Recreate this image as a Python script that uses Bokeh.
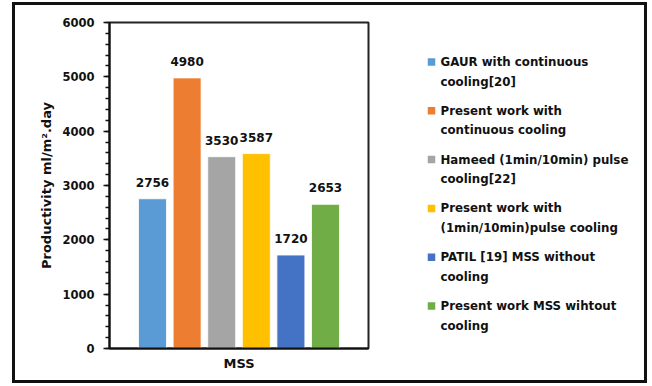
from bokeh.plotting import figure
from bokeh.models import (ColumnDataSource, FactorRange, Range1d,
                          SingleIntervalTicker, LabelSet)
from bokeh.core.properties import value
from bokeh.transform import dodge
from bokeh.layouts import row
from bokeh.embed import file_html
from bokeh.resources import INLINE

# Productivity of each still configuration (ml/m².day)
categories = ["MSS"]
series_names = [
    "GAUR with continuous\ncooling[20]",
    "Present work with\ncontinuous cooling",
    "Hameed (1min/10min) pulse\ncooling[22]",
    "Present work with\n(1min/10min)pulse cooling",
    "PATIL [19] MSS without\ncooling",
    "Present work MSS wihtout\ncooling",
]
productivity = [2756, 4980, 3530, 3587, 1720, 2653]
colors = ["#5B9BD5", "#ED7D31", "#A5A5A5", "#FFC000", "#4472C4", "#70AD47"]

FONT = "DejaVu Sans"
INK = "#111111"
pitch = 0.1336
bar_w = 0.108
TOP, BOTTOM = 17, 32   # borders above/below the plotting area, shared by both panels
H = 375

# ---- bar chart -------------------------------------------------------------
p = figure(
    x_range=FactorRange(*categories, range_padding=0),
    y_range=Range1d(0, 6000),
    width=365, height=H,
    output_backend="svg", toolbar_location=None,
    min_border_left=94, min_border_right=12,
    min_border_top=TOP, min_border_bottom=BOTTOM,
)

for i, (val, col) in enumerate(zip(productivity, colors)):
    src = ColumnDataSource(dict(cat=categories, v=[val], lbl=[str(val)]))
    off = (i - 2.5) * pitch
    p.vbar(x=dodge("cat", off, range=p.x_range), top="v", width=bar_w,
           source=src, fill_color=col, line_color="white", line_width=0.8)
    p.add_layout(LabelSet(x=dodge("cat", off, range=p.x_range), y="v", text="lbl",
                          source=src, text_align="center", text_baseline="bottom",
                          y_offset=12, text_font=value(FONT), text_font_style="bold",
                          text_font_size="12px", text_color=INK))

p.xgrid.visible = False
p.ygrid.visible = False
p.outline_line_color = "#222222"
p.outline_line_width = 2

yax = p.yaxis[0]
yax.ticker = SingleIntervalTicker(interval=1000, num_minor_ticks=5)
yax.axis_label = "Productivity ml/m².day"
yax.axis_label_text_font = FONT
yax.axis_label_text_font_style = "bold"
yax.axis_label_text_font_size = "13px"
yax.axis_label_text_color = INK
yax.axis_label_standoff = 5
yax.major_label_text_font = FONT
yax.major_label_text_font_style = "bold"
yax.major_label_text_font_size = "11.5px"
yax.major_label_text_color = INK
yax.major_label_standoff = 9
yax.axis_line_color = INK
yax.axis_line_width = 2
yax.major_tick_in = 0
yax.major_tick_out = 6
yax.minor_tick_in = 0
yax.minor_tick_out = 4
yax.major_tick_line_color = INK
yax.minor_tick_line_color = INK
yax.major_tick_line_width = 1.5
yax.minor_tick_line_width = 1.5

xax = p.xaxis[0]
xax.major_tick_line_color = None
xax.minor_tick_line_color = None
xax.major_tick_out = 0
xax.axis_line_color = INK
xax.axis_line_width = 2
xax.major_label_text_font = FONT
xax.major_label_text_font_style = "bold"
xax.major_label_text_font_size = "13px"
xax.major_label_text_color = INK
xax.major_label_standoff = 7

# ---- legend panel (pixel coordinates of the panel, y pointing down) --------
LW = 264
entry_top = 56.5      # centre of the first line of the first entry
entry_pitch = 48.8
line_pitch = 19.6
sq_x, txt_x = 51, 60

sq_y, line_x, line_y, line_txt = [], [], [], []
for k, name in enumerate(series_names):
    y0 = entry_top + k * entry_pitch
    sq_y.append(y0)
    for j, part in enumerate(name.split("\n")):
        line_x.append(txt_x)
        line_y.append(y0 + j * line_pitch)
        line_txt.append(part)

q = figure(width=LW, height=H, x_range=Range1d(0, LW),
           y_range=Range1d(H - BOTTOM, TOP),
           output_backend="svg", toolbar_location=None,
           min_border_left=0, min_border_right=0,
           min_border_top=TOP, min_border_bottom=BOTTOM,
           outline_line_color=None)
q.axis.visible = False
q.grid.visible = False
q.scatter(x=[sq_x] * len(colors), y=sq_y, marker="square", size=7.5,
          fill_color=colors, line_color=None)
q.text(x=line_x, y=line_y, text=line_txt, text_font=value(FONT),
       text_font_style="bold", text_font_size="11.8px", text_color=INK,
       text_baseline="middle", text_align="left")

# black frame around the whole chart
page = row(p, q, styles={"margin-left": "12px", "margin-top": "2px",
                         "border": "3px solid #111111"})

open("out.html", "w").write(file_html(page, INLINE))
